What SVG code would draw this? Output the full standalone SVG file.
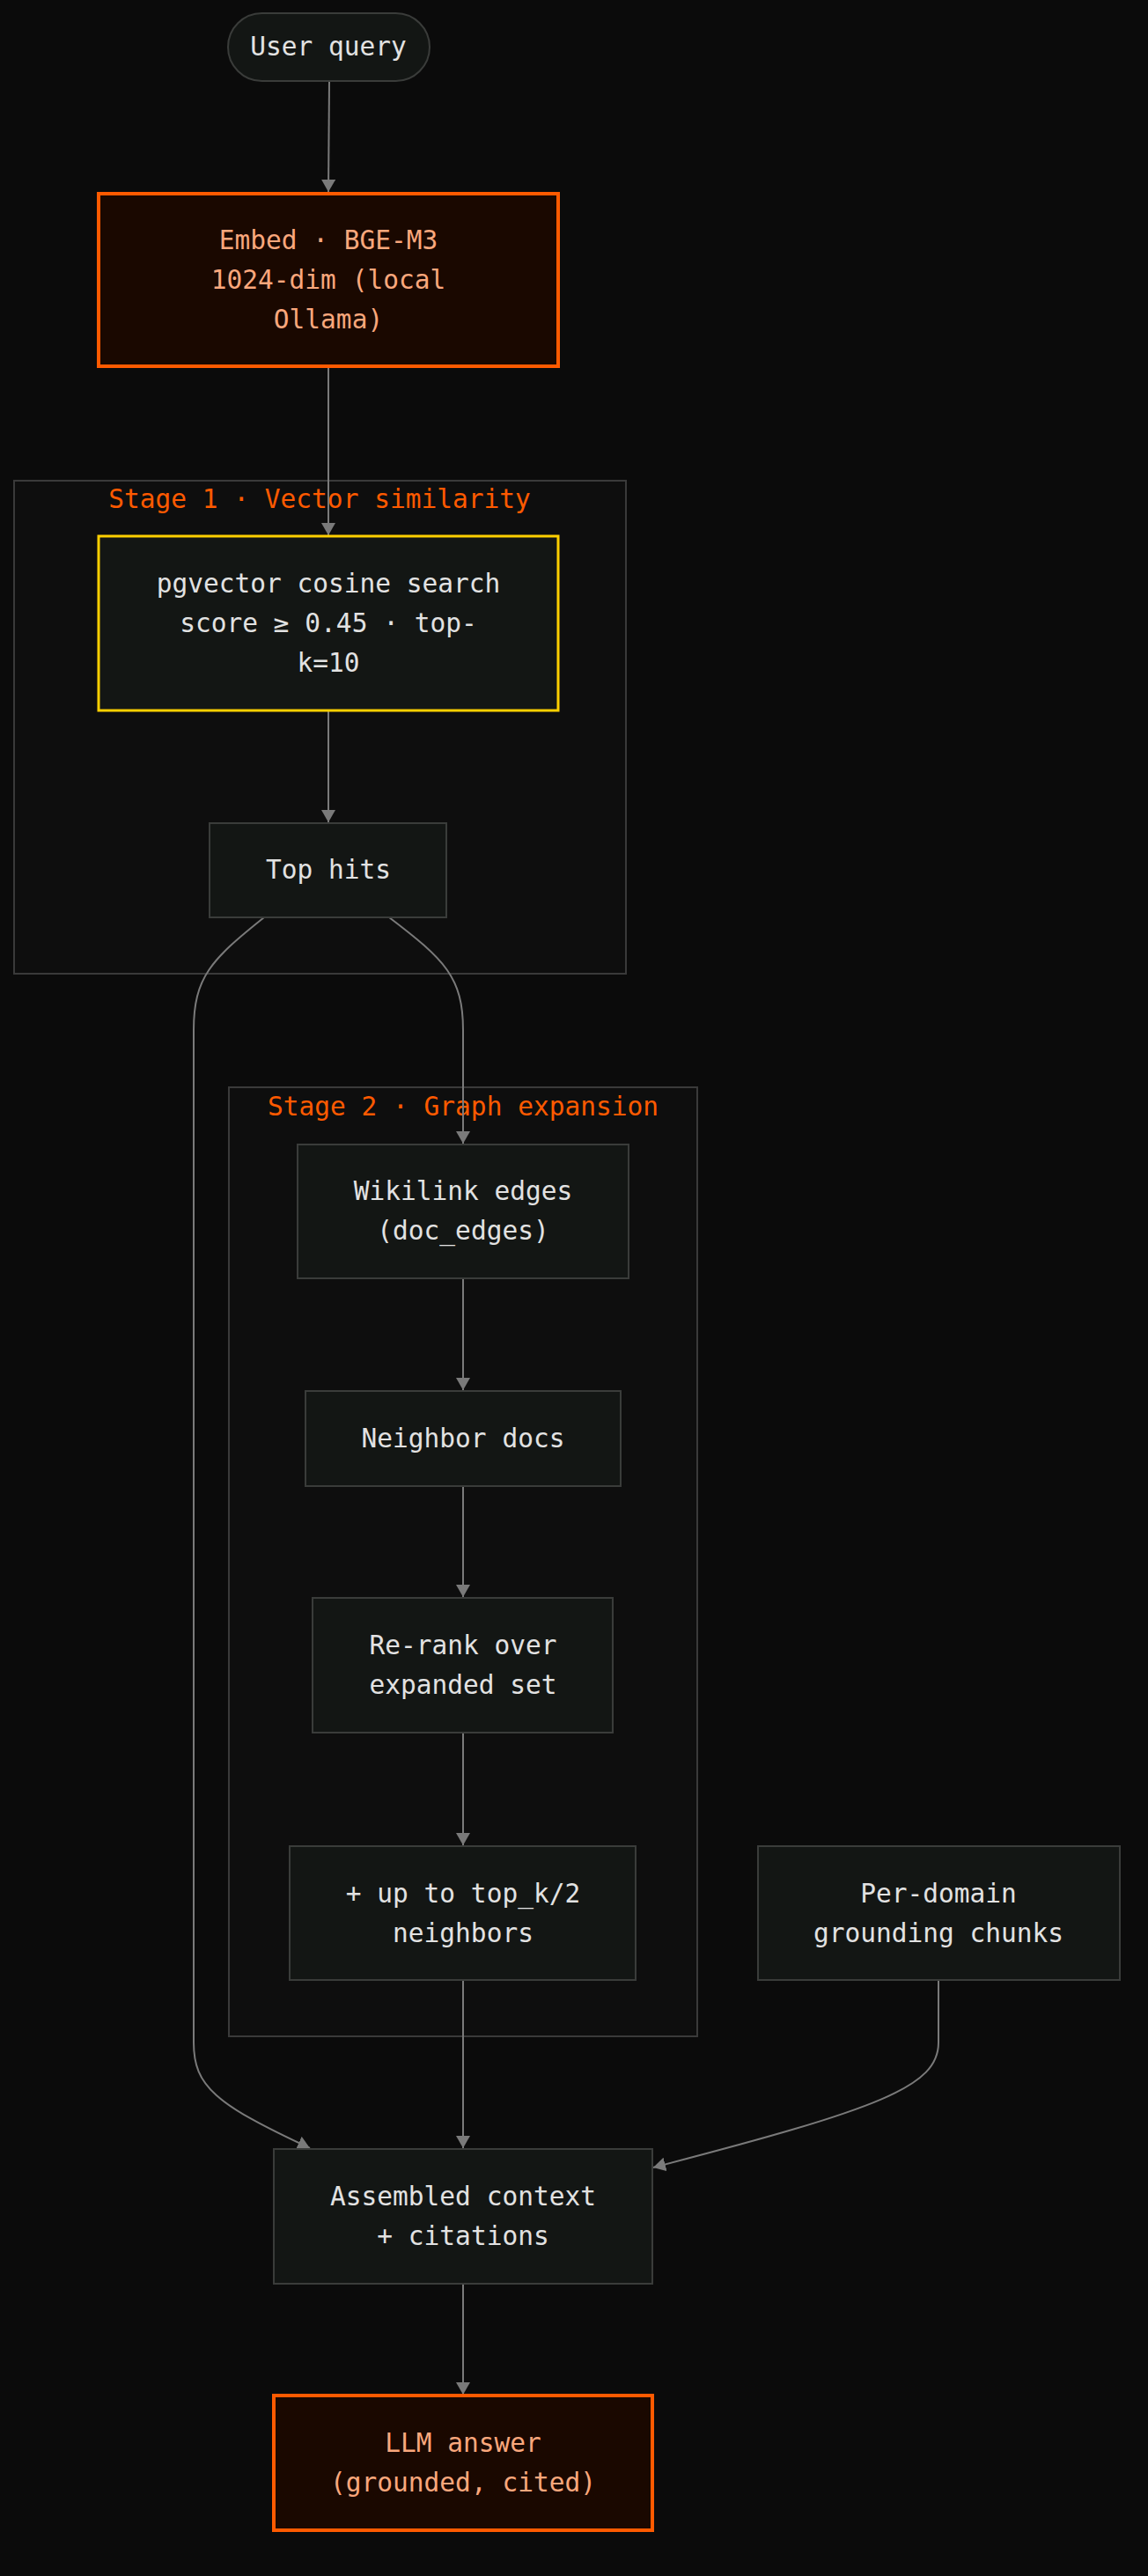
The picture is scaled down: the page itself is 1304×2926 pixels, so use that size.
<svg xmlns="http://www.w3.org/2000/svg" width="1304" height="2926" viewBox="0 0 1304 2926">
<defs>
<marker id="arr" viewBox="0 0 14 16" refX="14" refY="8" markerWidth="14" markerHeight="16" markerUnits="userSpaceOnUse" orient="auto">
<path d="M0,0 L14,8 L0,16 z" fill="#7a7a7a"/>
</marker>
<style>
text{font-family:"DejaVu Sans Mono","Liberation Mono",monospace;font-size:29.5px;text-anchor:middle;}
.t{fill:#e2e2e2;}
.to{fill:#f9a77c;}
.lbl{fill:#ff5a00;}
.n{fill:#131614;stroke:#3a3c3a;stroke-width:2;}
.hot{fill:#1a0800;stroke:#ff5a00;stroke-width:4;}
.yel{fill:#131614;stroke:#ffd000;stroke-width:3;}
.cl{fill:#0e0e0e;stroke:#3a3a3a;stroke-width:2;}
.e{fill:none;stroke:#7a7a7a;stroke-width:2;marker-end:url(#arr);}
</style>
</defs>
<rect width="1304" height="2926" fill="#0b0b0b"/>
<g id="cluster-stage1">
<rect class="cl" x="16" y="546" width="695" height="560"/>
<text class="lbl" x="363" y="577">Stage 1 · Vector similarity</text>
</g>
<g id="cluster-stage2">
<rect class="cl" x="260" y="1235" width="532" height="1078"/>
<text class="lbl" x="526" y="1267">Stage 2 · Graph expansion</text>
</g>
<g id="connectors">
<path class="e" d="M374,92 L373,218"/>
<path class="e" d="M373,416 L373,608"/>
<path class="e" d="M373,807 L373,934"/>
<path class="e" d="M442,1042 C505,1090 526,1110 526,1170 L526,1299"/>
<path class="e" d="M300,1042 C240,1090 220,1110 220,1170 L220,2320 C220,2370 245,2390 352,2440"/>
<path class="e" d="M526,1452 L526,1579"/>
<path class="e" d="M526,1688 L526,1814"/>
<path class="e" d="M526,1968 L526,2096"/>
<path class="e" d="M526,2249 L526,2440"/>
<path class="e" d="M1066,2249 L1066,2320 C1066,2370 1000,2395 742,2462"/>
<path class="e" d="M526,2594 L526,2720"/>
</g>
<g id="node-user-query">
<rect class="n" x="259" y="15" width="229" height="77" rx="38.5"/>
<text class="t" x="373" y="63">User query</text>
</g>
<g id="node-embed">
<rect class="hot" x="112" y="220" width="522" height="196"/>
<text class="to" x="373" y="283">Embed · BGE-M3</text>
<text class="to" x="373" y="328">1024-dim (local</text>
<text class="to" x="373" y="373">Ollama)</text>
</g>
<g id="node-pgvector">
<rect class="yel" x="112" y="609" width="522" height="198"/>
<text class="t" x="373" y="673">pgvector cosine search</text>
<text class="t" x="373" y="718">score ≥ 0.45 · top-</text>
<text class="t" x="373" y="763">k=10</text>
</g>
<g id="node-top-hits">
<rect class="n" x="238" y="935" width="269" height="107"/>
<text class="t" x="373" y="998">Top hits</text>
</g>
<g id="node-wikilink">
<rect class="n" x="338" y="1300" width="376" height="152"/>
<text class="t" x="526" y="1363">Wikilink edges</text>
<text class="t" x="526" y="1408">(doc_edges)</text>
</g>
<g id="node-neighbor">
<rect class="n" x="347" y="1580" width="358" height="108"/>
<text class="t" x="526" y="1644">Neighbor docs</text>
</g>
<g id="node-rerank">
<rect class="n" x="355" y="1815" width="341" height="153"/>
<text class="t" x="526" y="1879">Re-rank over</text>
<text class="t" x="526" y="1924">expanded set</text>
</g>
<g id="node-upto">
<rect class="n" x="329" y="2097" width="393" height="152"/>
<text class="t" x="526" y="2161">+ up to top_k/2</text>
<text class="t" x="526" y="2206">neighbors</text>
</g>
<g id="node-perdomain">
<rect class="n" x="861" y="2097" width="411" height="152"/>
<text class="t" x="1066" y="2161">Per-domain</text>
<text class="t" x="1066" y="2206">grounding chunks</text>
</g>
<g id="node-assembled">
<rect class="n" x="311" y="2441" width="430" height="153"/>
<text class="t" x="526" y="2505">Assembled context</text>
<text class="t" x="526" y="2550">+ citations</text>
</g>
<g id="node-llm">
<rect class="hot" x="311" y="2721" width="430" height="153"/>
<text class="to" x="526" y="2785">LLM answer</text>
<text class="to" x="526" y="2830">(grounded, cited)</text>
</g>
</svg>
